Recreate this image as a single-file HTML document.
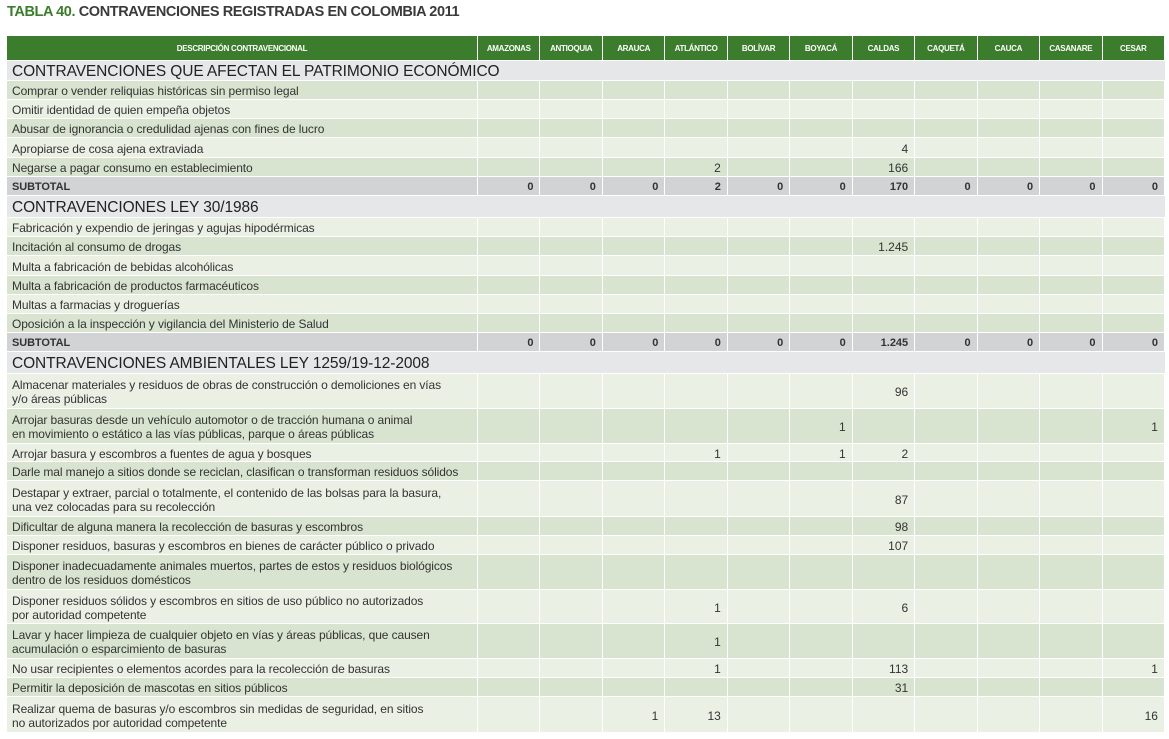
<!DOCTYPE html>
<html><head><meta charset="utf-8">
<style>
body{margin:0;width:1169px;height:739px;background:#fff;position:relative;overflow:hidden;font-family:"Liberation Sans",sans-serif;}
#title{position:absolute;left:7px;top:4px;font-size:14.5px;font-weight:bold;color:#3a3a3a;letter-spacing:-0.4px;white-space:nowrap}
#title span{color:#3b7d2d}
.c{position:absolute;box-sizing:border-box;overflow:hidden;white-space:nowrap}
.hd{background:#3b7d2d;color:#fff;font-size:8px;font-weight:bold;text-align:center;display:flex;align-items:center;justify-content:center;letter-spacing:-0.3px}
.txt{font-size:12px;color:#333;padding-left:5px;padding-top:2px;line-height:14px;display:flex;align-items:center;letter-spacing:-0.1px}
.num{font-size:12px;color:#333;padding-right:6px;padding-top:2px;display:flex;align-items:center;justify-content:flex-end}
.sec{background:#e6e7e8;font-size:15.5px;color:#222;padding-left:5px;padding-top:2px;display:flex;align-items:center;letter-spacing:-0.1px}
.sub{background:#d1d3d4;font-weight:bold;font-size:11px}
</style></head><body>
<div id="title"><span>TABLA 40.</span> CONTRAVENCIONES REGISTRADAS EN COLOMBIA 2011</div>
<div id="tbl"></div>
<script>
const departments=["AMAZONAS","ANTIOQUIA","ARAUCA","ATLÁNTICO","BOLÍVAR","BOYACÁ","CALDAS","CAQUETÁ","CAUCA","CASANARE","CESAR"];
const rows=[
{t:"sec",d:"CONTRAVENCIONES QUE AFECTAN EL PATRIMONIO ECONÓMICO",h:20},
{t:"r",d:"Comprar o vender reliquias históricas sin permiso legal",h:19,v:{}},
{t:"r",d:"Omitir identidad de quien empeña objetos",h:19,v:{}},
{t:"r",d:"Abusar de ignorancia o credulidad ajenas con fines de lucro",h:19,v:{}},
{t:"r",d:"Apropiarse de cosa ajena extraviada",h:20,v:{6:"4"}},
{t:"r",d:"Negarse a pagar consumo en establecimiento",h:19,v:{3:"2",6:"166"}},
{t:"s",d:"SUBTOTAL",h:19,v:["0","0","0","2","0","0","170","0","0","0","0"]},
{t:"sec",d:"CONTRAVENCIONES LEY 30/1986",h:22},
{t:"r",d:"Fabricación y expendio de jeringas y agujas hipodérmicas",h:19,v:{}},
{t:"r",d:"Incitación al consumo de drogas",h:19,v:{6:"1.245"}},
{t:"r",d:"Multa a fabricación de bebidas alcohólicas",h:20,v:{}},
{t:"r",d:"Multa a fabricación de productos farmacéuticos",h:19,v:{}},
{t:"r",d:"Multas a farmacias y droguerías",h:19,v:{}},
{t:"r",d:"Oposición a la inspección y vigilancia del Ministerio de Salud",h:19,v:{}},
{t:"s",d:"SUBTOTAL",h:19,v:["0","0","0","0","0","0","1.245","0","0","0","0"]},
{t:"sec",d:"CONTRAVENCIONES AMBIENTALES LEY 1259/19-12-2008",h:22},
{t:"r",d:"Almacenar materiales y residuos de obras de construcción o demoliciones en vías<br>y/o áreas públicas",h:35,v:{6:"96"}},
{t:"r",d:"Arrojar basuras desde un vehículo automotor o de tracción humana o animal<br>en movimiento o estático a las vías públicas, parque o áreas públicas",h:35,v:{5:"1",10:"1"}},
{t:"r",d:"Arrojar basura y escombros a fuentes de agua y bosques",h:18,v:{3:"1",5:"1",6:"2"}},
{t:"r",d:"Darle mal manejo a sitios donde se reciclan, clasifican o transforman residuos sólidos",h:19,v:{}},
{t:"r",d:"Destapar y extraer, parcial o totalmente, el contenido de las bolsas para la basura,<br>una vez colocadas para su recolección",h:36,v:{6:"87"}},
{t:"r",d:"Dificultar de alguna manera la recolección de basuras y escombros",h:19,v:{6:"98"}},
{t:"r",d:"Disponer residuos, basuras y escombros en bienes de carácter público o privado",h:19,v:{6:"107"}},
{t:"r",d:"Disponer inadecuadamente animales muertos, partes de estos y residuos biológicos<br>dentro de los residuos domésticos",h:35,v:{}},
{t:"r",d:"Disponer residuos sólidos y escombros en sitios de uso público no autorizados<br>por autoridad competente",h:34,v:{3:"1",6:"6"}},
{t:"r",d:"Lavar y hacer limpieza de cualquier objeto en vías y áreas públicas, que causen<br>acumulación o esparcimiento de basuras",h:35,v:{3:"1"}},
{t:"r",d:"No usar recipientes o elementos acordes para la recolección de basuras",h:19,v:{3:"1",6:"113",10:"1"}},
{t:"r",d:"Permitir la deposición de mascotas en sitios públicos",h:19,v:{6:"31"}},
{t:"r",d:"Realizar quema de basuras y/o escombros sin medidas de seguridad, en sitios<br>no autorizados por autoridad competente",h:36,v:{2:"1",3:"13",10:"16"}}
];
const tbl=document.getElementById('tbl');
const X0=7,DESC=478,END=1165,colW=(END-DESC)/departments.length;
function cell(cls,x,y,w,h,html,bg,name){
 const e=document.createElement('div');
 e.className='c '+cls;
 e.style.left=x+'px';e.style.top=y+'px';e.style.width=w+'px';e.style.height=h+'px';
 if(bg)e.style.background=bg;
 e.innerHTML=html;
 
 
 tbl.appendChild(e);return e;
}
let y=36;
cell('hd',X0,y,DESC-X0-1,24,'DESCRIPCIÓN CONTRAVENCIONAL',null,'header-description');
departments.forEach((d,i)=>cell('hd',DESC+i*colW,y,colW-1,24,d,null,'header-department'));
y+=25;
let alt=0;
rows.forEach((r,idx)=>{
 if(r.t==='sec'){cell('sec',X0,y,END-X0,r.h-1,r.d,null,'section-heading');alt=0;}
 else if(r.t==='s'){
  cell('txt sub',X0,y,DESC-X0-1,r.h-1,r.d,null,'subtotal-label');
  r.v.forEach((v,i)=>cell('num sub',DESC+i*colW,y,colW-1,r.h-1,v,null,'subtotal-value'));
 } else {
  const bg=(idx<8? (alt%2===0?'#d9e4d0':'#ebf0e5') : (alt%2===0?'#ebf0e5':'#d9e4d0'));
  cell('txt',X0,y,DESC-X0-1,r.h-1,'<div>'+r.d+'</div>',bg,'row-description');
  departments.forEach((d,i)=>cell('num',DESC+i*colW,y,colW-1,r.h-1,r.v[i]||'',bg,'row-value'));
  alt++;
 }
 y+=r.h;
});
</script>
</body></html>
